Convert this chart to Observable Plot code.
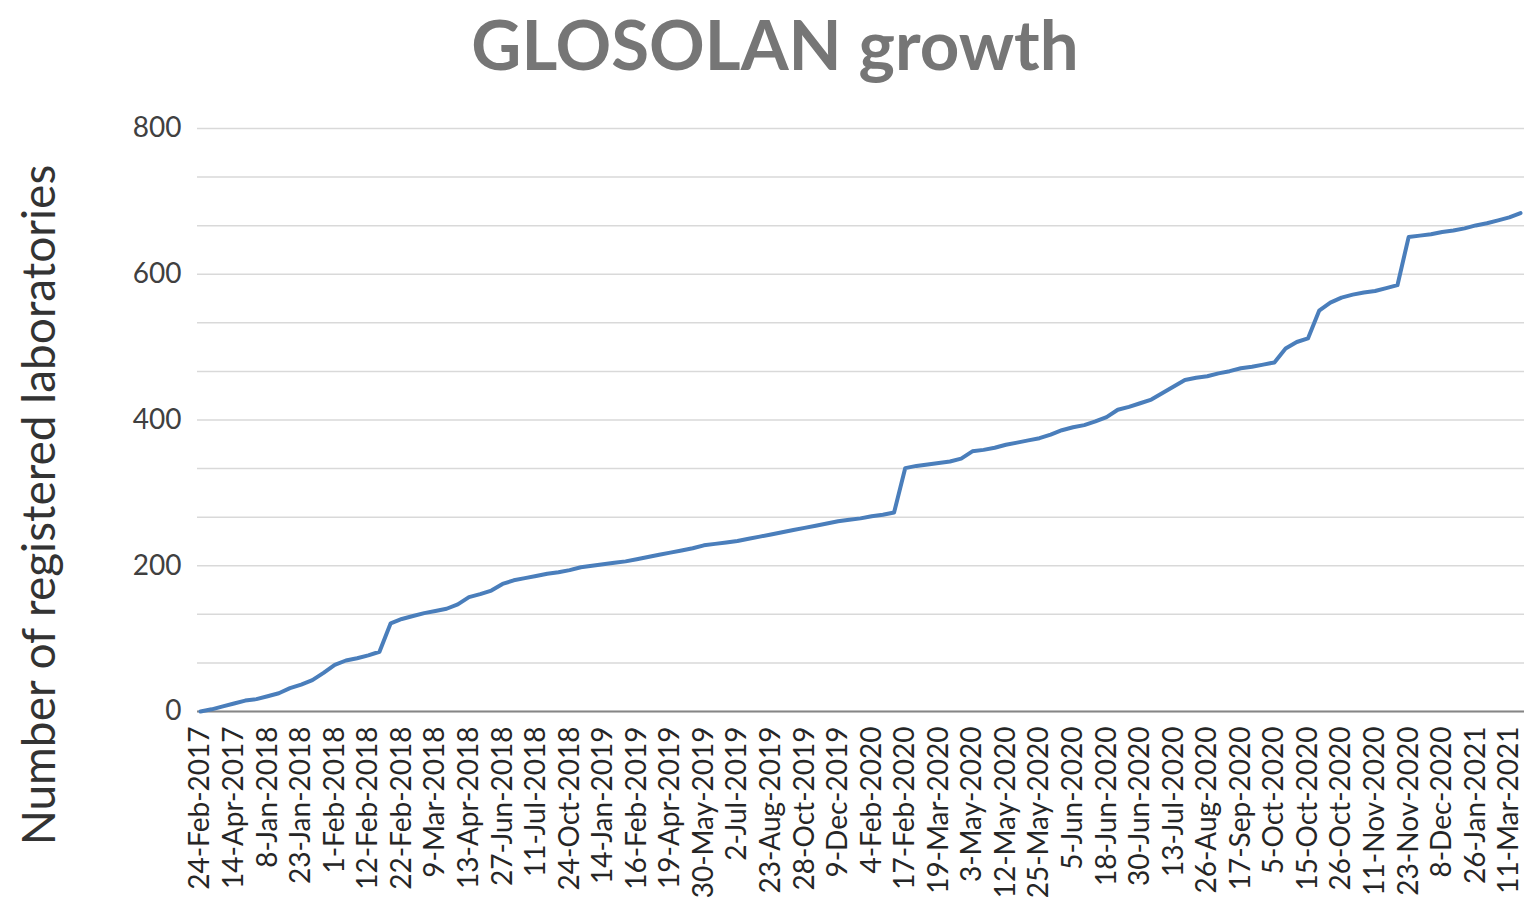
<!DOCTYPE html>
<html>
<head>
<meta charset="utf-8">
<script src="https://cdn.jsdelivr.net/npm/d3@7"></script>
<script src="https://cdn.jsdelivr.net/npm/@observablehq/plot@0.6"></script>
<style>
  html, body { margin: 0; padding: 0; background: #fff; }
  #wrap { position: relative; width: 1524px; height: 904px; }
  #ylabel { position: absolute; left: 38px; top: 505px; transform: translate(-50%, -50%) rotate(-90deg);
            white-space: nowrap; font-family: Lato, sans-serif; font-size: 46px; line-height: 1; color: #333; }
  #chart { position: absolute; left: 0; top: 0; }
</style>
</head>
<body>
<div id="wrap">
  <div id="chart"></div>
  <div id="ylabel">Number of registered laboratories</div>
</div>
<script>
const chartTitle = "GLOSOLAN growth";

// Category labels shown on the x axis (every 3rd data point)
const dateLabels = [
  "24-Feb-2017","14-Apr-2017","8-Jan-2018","23-Jan-2018","1-Feb-2018","12-Feb-2018",
  "22-Feb-2018","9-Mar-2018","13-Apr-2018","27-Jun-2018","11-Jul-2018","24-Oct-2018",
  "14-Jan-2019","16-Feb-2019","19-Apr-2019","30-May-2019","2-Jul-2019","23-Aug-2019",
  "28-Oct-2019","9-Dec-2019","4-Feb-2020","17-Feb-2020","19-Mar-2020","3-May-2020",
  "12-May-2020","25-May-2020","5-Jun-2020","18-Jun-2020","30-Jun-2020","13-Jul-2020",
  "26-Aug-2020","17-Sep-2020","5-Oct-2020","15-Oct-2020","26-Oct-2020","11-Nov-2020",
  "23-Nov-2020","8-Dec-2020","26-Jan-2021","11-Mar-2021"
];
const labelEvery = 3;

// Number of registered laboratories, one value per record
const registered = [
  0, 3, 7, 11, 15, 17, 21, 25, 32, 37,
  43, 53, 64, 70, 73, 77, 82, 121, 127, 131,
  135, 138, 141, 147, 157, 161, 166, 175, 180, 183,
  186, 189, 191, 194, 198, 200, 202, 204, 206, 209,
  212, 215, 218, 221, 224, 228, 230, 232, 234, 237,
  240, 243, 246, 249, 252, 255, 258, 261, 263, 265,
  268, 270, 273, 334, 337, 339, 341, 343, 347, 357,
  359, 362, 366, 369, 372, 375, 380, 386, 390, 393,
  398, 404, 414, 418, 423, 428, 437, 446, 455, 458,
  460, 464, 467, 471, 473, 476, 479, 498, 507, 512,
  550, 561, 568, 572, 575, 577, 581, 585, 651, 653,
  655, 658, 660, 663, 667, 670, 674, 678, 684
];

const yTickValues = [0, 200, 400, 600, 800];
const gridValues = d3.range(0, 801, 200 / 3);

const points = registered.map((v, i) => ({i, v}));
const labelIndex = dateLabels.map((_, k) => k * labelEvery);

const chart = Plot.plot({
  width: 1524,
  height: 904,
  marginTop: 128,
  marginBottom: 193,
  marginLeft: 197,
  marginRight: 0,
  x: {domain: [0, registered.length - 1], insetLeft: 3, insetRight: 4},
  y: {domain: [0, 800]},
  style: {fontFamily: "Lato, sans-serif", background: "transparent"},
  marks: [
    Plot.ruleY(gridValues, {stroke: "#d9d9d9", strokeWidth: 1.5}),
    Plot.ruleY([0], {stroke: "#868686", strokeWidth: 1.8}),
    Plot.lineY(points, {x: "i", y: "v", stroke: "#4a7ebb", strokeWidth: 4, strokeLinejoin: "round"}),
    Plot.axisY({ticks: yTickValues, tickSize: 0, tickPadding: 16, fontSize: 28, fill: "#404040", label: null}),
    Plot.axisX({ticks: labelIndex, tickFormat: i => dateLabels[Math.round(i / labelEvery)],
      tickRotate: -90, tickSize: 0, tickPadding: 15, fontSize: 28, fill: "#262626", label: null}),
    Plot.text([chartTitle], {text: d => d, frameAnchor: "top", dx: -86, dy: -59, lineAnchor: "bottom",
      fontSize: 69, fontWeight: 700, fill: "#767676"})
  ]
});
document.getElementById("chart").appendChild(chart);
</script>
</body>
</html>
